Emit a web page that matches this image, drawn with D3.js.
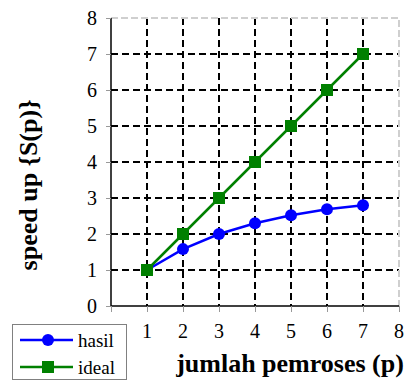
<!DOCTYPE html>
<html>
<head>
<meta charset="utf-8">
<script src="https://cdn.jsdelivr.net/npm/d3@7"></script>
<style>
body { margin: 0; background: #fff; }
svg text { font-family: "Liberation Serif", "Times New Roman", Times, serif; }
</style>
</head>
<body>
<div id="chart"></div>
<script>
var svgWidth = 414;
var svgHeight = 381;
var serif = "Liberation Serif, Times New Roman, serif";

var margin = {top: 18, right: 15, bottom: 75, left: 111};
var width = svgWidth - margin.left - margin.right;
var height = svgHeight - margin.top - margin.bottom;

// data
var processors = [1, 2, 3, 4, 5, 6, 7];
var hasil = [1, 1.58, 2.0, 2.3, 2.52, 2.69, 2.8];
var ideal = [1, 2, 3, 4, 5, 6, 7];
var xTicks = [0, 1, 2, 3, 4, 5, 6, 7, 8];
var yTicks = [0, 1, 2, 3, 4, 5, 6, 7, 8];

var svg = d3.select("#chart")
.append("svg")
.attr("width", svgWidth)
.attr("height", svgHeight);

var chartGroup = svg.append("g")
.attr("transform", `translate(${margin.left}, ${margin.top})`);

var xLinearScale = d3.scaleLinear().domain([0, 8]).range([0, width]);
var yLinearScale = d3.scaleLinear().domain([0, 8]).range([height, 0]);

// grid
chartGroup.selectAll(".vgrid").data(xTicks.filter(d => d > 0 && d < 8)).enter()
.append("line")
.attr("x1", d => xLinearScale(d)).attr("x2", d => xLinearScale(d))
.attr("y1", 0).attr("y2", height)
.attr("stroke", "#000").attr("stroke-width", 2).attr("stroke-dasharray", "7,4");

chartGroup.selectAll(".hgrid").data(yTicks.filter(d => d > 0 && d < 8)).enter()
.append("line")
.attr("x1", 0).attr("x2", width)
.attr("y1", d => yLinearScale(d)).attr("y2", d => yLinearScale(d))
.attr("stroke", "#000").attr("stroke-width", 2).attr("stroke-dasharray", "7,4");

// light border top/right
chartGroup.append("path")
.attr("d", `M0,${yLinearScale(8)}H${xLinearScale(8)}V${height}`)
.attr("fill", "none").attr("stroke", "#cfcfcf").attr("stroke-width", 2)
.attr("stroke-dasharray", "7,3");

// axes
var bottomAxis = d3.axisBottom(xLinearScale).tickValues(xTicks).tickSize(6).tickFormat("");
var leftAxis = d3.axisLeft(yLinearScale).tickValues(yTicks).tickSize(5).tickPadding(9);

var xg = chartGroup.append("g")
.attr("transform", `translate(0, ${height})`)
.call(bottomAxis);
xg.select(".domain").attr("stroke", "#000").attr("stroke-width", 1.5).attr("d", `M0,0H${width}`);
xg.selectAll(".tick line").attr("stroke", "#999");

chartGroup.append("g").selectAll("text").data(xTicks.filter(d => d > 0)).enter()
.append("text")
.attr("x", d => xLinearScale(d))
.attr("y", height + 32)
.attr("text-anchor", "middle")
.attr("font-family", serif)
.attr("font-size", 20)
.text(d => d);

var yg = chartGroup.append("g").call(leftAxis).attr("font-family", serif);
yg.select(".domain").attr("stroke", "#000").attr("stroke-width", 1.5).attr("d", `M0,0V${height}`);
yg.selectAll(".tick line").attr("stroke", "#999");
yg.selectAll(".tick text").attr("font-size", 20).attr("font-family", serif).attr("fill", "#000");

// lines
var line = d3.line().x((d, i) => xLinearScale(processors[i])).y(d => yLinearScale(d));

chartGroup.append("path").datum(hasil)
.attr("d", line).attr("fill", "none").attr("stroke", "#0000ff").attr("stroke-width", 2.5);
chartGroup.append("path").datum(ideal)
.attr("d", line).attr("fill", "none").attr("stroke", "#008000").attr("stroke-width", 2.5);

chartGroup.selectAll(".dot").data(hasil).enter()
.append("circle")
.attr("cx", (d, i) => xLinearScale(processors[i]))
.attr("cy", d => yLinearScale(d))
.attr("r", 6)
.attr("fill", "#0000ff");

chartGroup.selectAll(".sq").data(ideal).enter()
.append("rect")
.attr("x", (d, i) => xLinearScale(processors[i]) - 6)
.attr("y", d => yLinearScale(d) - 6)
.attr("width", 12).attr("height", 12)
.attr("fill", "#008000");

// axis titles
svg.append("text")
.attr("transform", "rotate(-90)")
.attr("x", -185)
.attr("y", 37)
.attr("text-anchor", "middle")
.attr("font-family", serif)
.attr("font-size", 26)
.attr("font-weight", "bold")
.text("speed up {S(p)}");

svg.append("text")
.attr("x", 290)
.attr("y", 372)
.attr("text-anchor", "middle")
.attr("font-family", serif)
.attr("font-size", 26)
.attr("font-weight", "bold")
.text("jumlah pemroses (p)");

// legend
var legend = svg.append("g");
legend.append("rect")
.attr("x", 12.5).attr("y", 324.5).attr("width", 114).attr("height", 55)
.attr("fill", "#fff").attr("stroke", "#808080").attr("stroke-width", 1);

var legendNames = ["hasil", "ideal"];
var legendColors = ["#0000ff", "#008000"];
legendNames.forEach(function(name, i) {
  var y = 340 + i * 27;
  legend.append("line").attr("x1", 20).attr("x2", 73).attr("y1", y).attr("y2", y)
  .attr("stroke", legendColors[i]).attr("stroke-width", 2.5);
  if (i == 0) {
    legend.append("circle").attr("cx", 48).attr("cy", y).attr("r", 6).attr("fill", legendColors[i]);
  } else {
    legend.append("rect").attr("x", 42).attr("y", y - 6).attr("width", 12).attr("height", 12).attr("fill", legendColors[i]);
  }
  legend.append("text").attr("x", 78).attr("y", y + 7).attr("font-family", serif).attr("font-size", 19).text(name);
});
</script>
</body>
</html>
